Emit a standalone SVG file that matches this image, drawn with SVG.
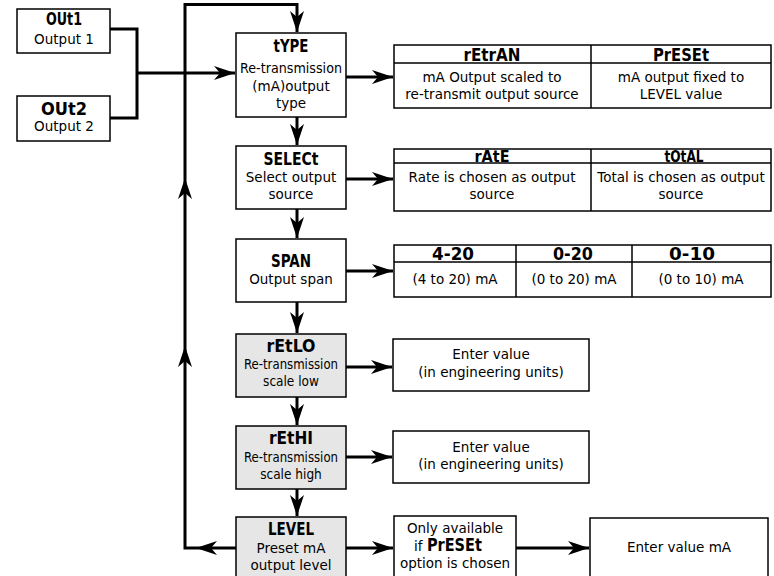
<svg xmlns="http://www.w3.org/2000/svg" width="774" height="576" viewBox="0 0 774 576">
<style>
.box{fill:#fff;stroke:#000;stroke-width:1.5}
.gbox{fill:#e6e6e6;stroke:#000;stroke-width:1.5}
.ln{fill:none;stroke:#000;stroke-width:1.5}
.t{font-family:"DejaVu Sans",sans-serif;font-size:13.5px;text-anchor:middle;fill:#000}
.tc{font-family:"DejaVu Sans Condensed","DejaVu Sans",sans-serif;font-stretch:condensed;font-size:13.5px;text-anchor:middle;fill:#000}
.d{font-family:"DejaVu Sans Condensed","DejaVu Sans",sans-serif;font-stretch:condensed;font-weight:bold;font-size:17px;text-anchor:middle;fill:#000}
.ds{font-size:15px}
.c{fill:none;stroke:#000;stroke-width:3}
</style>
<defs>
<marker id="ah" markerUnits="userSpaceOnUse" markerWidth="24" markerHeight="18" viewBox="-22 -9 24 18" refX="0" refY="0" orient="auto">
<path d="M0,0 L-21,-7 L-15,0 L-21,7 Z" fill="#000"/>
</marker>
</defs>

<g id="connectors">
<path class="c" d="M110,29 H137 V118 H110"/>
<path class="c" d="M137,73 H235" marker-end="url(#ah)"/>
<path class="c" d="M236,548 H196" marker-end="url(#ah)"/>
<path class="c" d="M196,548 H185 V346" marker-end="url(#ah)"/>
<path class="c" d="M185,346 V178" marker-end="url(#ah)"/>
<path class="c" d="M185,178 V4.5 H297 V32" marker-end="url(#ah)"/>
<path class="c" d="M297,117 V145" marker-end="url(#ah)"/>
<path class="c" d="M297,209 V238" marker-end="url(#ah)"/>
<path class="c" d="M297,302 V333" marker-end="url(#ah)"/>
<path class="c" d="M297,397 V425" marker-end="url(#ah)"/>
<path class="c" d="M297,489 V516" marker-end="url(#ah)"/>
<path class="c" d="M346,77 H393" marker-end="url(#ah)"/>
<path class="c" d="M346,179 H393" marker-end="url(#ah)"/>
<path class="c" d="M346,271 H393" marker-end="url(#ah)"/>
<path class="c" d="M346,367 H392" marker-end="url(#ah)"/>
<path class="c" d="M346,457 H392" marker-end="url(#ah)"/>
<path class="c" d="M346,548 H393" marker-end="url(#ah)"/>
<path class="c" d="M516,548 H589" marker-end="url(#ah)"/>
</g>

<g id="out1">
<rect class="box" x="17" y="9" width="93" height="44"/>
<text class="d" x="64" y="25" textLength="36" lengthAdjust="spacingAndGlyphs">OUt1</text>
<text class="t" x="64" y="44">Output 1</text>
</g>
<g id="out2">
<rect class="box" x="17" y="96" width="93" height="45"/>
<text class="d" x="64" y="115" textLength="46" lengthAdjust="spacingAndGlyphs">OUt2</text>
<text class="t" x="64" y="131">Output 2</text>
</g>

<g id="type">
<rect class="box" x="236" y="33" width="110" height="84"/>
<text class="d" x="291" y="52" textLength="35" lengthAdjust="spacingAndGlyphs">tYPE</text>
<text class="t" x="291" y="73" textLength="102" lengthAdjust="spacingAndGlyphs">Re-transmission</text>
<text class="t" x="291" y="91">(mA)output</text>
<text class="t" x="291" y="108">type</text>
</g>

<g id="select">
<rect class="box" x="236" y="146" width="110" height="63"/>
<text class="d" x="291" y="165" textLength="55" lengthAdjust="spacingAndGlyphs">SELECt</text>
<text class="t" x="291" y="182">Select output</text>
<text class="t" x="291" y="199">source</text>
</g>

<g id="span">
<rect class="box" x="236" y="239" width="110" height="63"/>
<text class="d" x="291" y="267" textLength="40" lengthAdjust="spacingAndGlyphs">SPAN</text>
<text class="t" x="291" y="284">Output span</text>
</g>

<g id="retlo">
<rect class="gbox" x="236" y="334" width="110" height="63"/>
<text class="d" x="291" y="352" textLength="49" lengthAdjust="spacingAndGlyphs">rEtLO</text>
<text class="tc" x="291" y="369" textLength="94" lengthAdjust="spacingAndGlyphs">Re-transmission</text>
<text class="tc" x="291" y="386">scale low</text>
</g>

<g id="rethi">
<rect class="gbox" x="236" y="426" width="110" height="63"/>
<text class="d" x="291" y="444" textLength="44" lengthAdjust="spacingAndGlyphs">rEtHI</text>
<text class="tc" x="291" y="462" textLength="94" lengthAdjust="spacingAndGlyphs">Re-transmission</text>
<text class="tc" x="291" y="479">scale high</text>
</g>

<g id="level">
<rect class="gbox" x="236" y="517" width="110" height="64"/>
<text class="d" x="291" y="535" textLength="46" lengthAdjust="spacingAndGlyphs">LEVEL</text>
<text class="t" x="291" y="553">Preset mA</text>
<text class="t" x="291" y="570">output level</text>
</g>

<g id="type-options">
<rect class="box" x="394" y="45" width="377" height="63"/>
<path class="ln" d="M591,45 V108 M394,63 H771"/>
<text class="d" x="492" y="61" textLength="57" lengthAdjust="spacingAndGlyphs">rEtrAN</text>
<text class="d" x="681" y="61" textLength="56" lengthAdjust="spacingAndGlyphs">PrESEt</text>
<text class="t" x="492" y="82">mA Output scaled to</text>
<text class="t" x="492" y="99">re-transmit output source</text>
<text class="t" x="681" y="82">mA output fixed to</text>
<text class="t" x="681" y="99">LEVEL value</text>
</g>

<g id="select-options">
<rect class="box" x="394" y="149" width="377" height="62"/>
<path class="ln" d="M591,149 V211 M394,163 H771"/>
<text class="d ds" x="492" y="161.5" textLength="35" lengthAdjust="spacingAndGlyphs">rAtE</text>
<text class="d ds" x="684" y="161.5" textLength="39" lengthAdjust="spacingAndGlyphs">tOtAL</text>
<text class="t" x="492" y="182">Rate is chosen as output</text>
<text class="t" x="492" y="199">source</text>
<text class="t" x="681" y="182">Total is chosen as output</text>
<text class="t" x="681" y="199">source</text>
</g>

<g id="span-options">
<rect class="box" x="394" y="245" width="377" height="52"/>
<path class="ln" d="M516,245 V297 M632,245 V297 M394,262 H771"/>
<text class="d" x="453" y="260" textLength="42" lengthAdjust="spacingAndGlyphs">4-20</text>
<text class="d" x="573" y="260" textLength="40" lengthAdjust="spacingAndGlyphs">0-20</text>
<text class="d" x="692" y="260" textLength="46" lengthAdjust="spacingAndGlyphs">0-10</text>
<text class="t" x="455" y="284">(4 to 20) mA</text>
<text class="t" x="574" y="284">(0 to 20) mA</text>
<text class="t" x="701" y="284">(0 to 10) mA</text>
</g>

<g id="enter-low">
<rect class="box" x="393" y="339" width="196" height="52"/>
<text class="t" x="491" y="359">Enter value</text>
<text class="t" x="491" y="377">(in engineering units)</text>
</g>

<g id="enter-high">
<rect class="box" x="393" y="431" width="196" height="52"/>
<text class="t" x="491" y="452">Enter value</text>
<text class="t" x="491" y="469">(in engineering units)</text>
</g>

<g id="only-preset">
<rect class="box" x="394" y="516" width="122" height="65"/>
<text class="t" x="455" y="533">Only available</text>
<text class="t" x="448" y="551">if <tspan class="d" style="font-size:17px" textLength="55" lengthAdjust="spacingAndGlyphs">PrESEt</tspan></text>
<text class="t" x="455" y="568">option is chosen</text>
</g>

<g id="enter-ma">
<rect class="box" x="590" y="518" width="178" height="63"/>
<text class="t" x="679" y="552">Enter value mA</text>
</g>
</svg>
